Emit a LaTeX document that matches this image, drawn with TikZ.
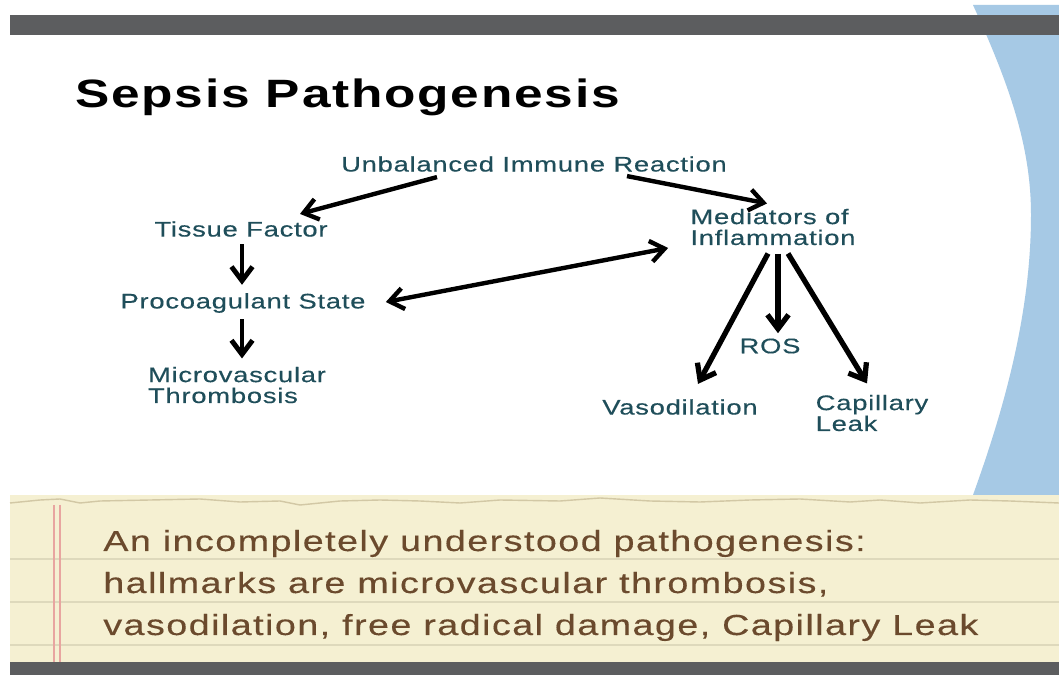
\documentclass[tikz,border=0pt]{standalone}
\usepackage{fontspec}
\usetikzlibrary{arrows.meta}
\newfontfamily\titlefont[FakeStretch=1.3,LetterSpace=4.5]{Liberation Sans}
\newfontfamily\diagfont[FakeStretch=1.3,LetterSpace=3.5,FakeBold=0.3]{Liberation Sans}
\newfontfamily\notefont[FakeStretch=1.3,LetterSpace=5,FakeBold=0.3]{Liberation Sans}
\definecolor{barGrey}{RGB}{92,93,95}
\definecolor{skyBlue}{RGB}{166,201,229}
\definecolor{tealText}{RGB}{31,78,90}
\definecolor{noteBeige}{RGB}{245,240,210}
\definecolor{noteRule}{RGB}{222,217,188}
\definecolor{noteWave}{RGB}{210,200,165}
\definecolor{noteMargin}{RGB}{232,165,160}
\definecolor{noteBrown}{RGB}{107,74,45}
\begin{document}
\begin{tikzpicture}[x=0.02cm,y=-0.02cm,
	>={Straight Barb[length=8pt,width=12pt]},
	lbl/.style={text=tealText, font=\diagfont\fontsize{12pt}{11.9pt}\selectfont, inner sep=0pt},
	note/.style={text=noteBrown, font=\notefont\fontsize{16.5pt}{18pt}\selectfont, anchor=base west, inner sep=0pt},
	arr/.style={->, line width=2.5pt}]
	\useasboundingbox (0,0) rectangle (1059,675);
	\fill[white] (0,0) rectangle (1059,675);
	% blue bow on the right
	\fill[skyBlue] (973,5) .. controls (1012,90) and (1031,150) .. (1031,215)
		.. controls (1031,320) and (1000,420) .. (973,495) -- (1059,495) -- (1059,5) -- cycle;
	% top and bottom bars, note paper
	\fill[barGrey] (10,15) rectangle (1059,35);
	\fill[noteBeige] (10,495) rectangle (1059,662);
	\foreach \y in {559,602,645} {
		\draw[noteRule, line width=0.6pt] (10,\y) -- (1059,\y);
	}
	\draw[noteWave, line width=0.8pt] plot coordinates {(10,503) (40,500) (60,499) (80,503) (100,501)
		(150,500) (200,499) (240,502) (280,501) (300,505) (340,501) (380,500) (420,501) (460,503)
		(500,500) (560,501) (600,498) (650,501) (700,502) (750,500) (800,499) (850,502) (880,500)
		(920,503) (970,500) (1010,501) (1059,503)};
	\foreach \x in {54,60} {
		\draw[noteMargin, line width=0.6pt] (\x,505) -- (\x,662);
	}
	\fill[barGrey] (10,662) rectangle (1059,675);

	% title
	\node[font=\titlefont\bfseries\fontsize{22.5pt}{26pt}\selectfont, anchor=base west, inner sep=0pt] (title) at (75,108) {Sepsis Pathogenesis};

	% diagram labels
	\node[lbl] (ubr) at (534,164) {Unbalanced Immune Reaction};
	\node[lbl] (tf) at (241,229) {Tissue Factor};
	\node[lbl, align=left] (med) at (773,227) {Mediators of\\Inflammation};
	\node[lbl] (proc) at (243,303) {Procoagulant State};
	\node[lbl, align=left] (mt) at (237,385) {Microvascular\\Thrombosis};
	\node[lbl] (ros) at (770,346) {ROS};
	\node[lbl] (vaso) at (680,407) {Vasodilation};
	\node[lbl, align=left] (cap) at (872,413) {Capillary\\Leak};

	% arrows
	\draw[arr] ([shift={(-97,5)}]ubr.south) -- ([shift={(59,-7)}]tf.north);
	\draw[arr] ([shift={(93,4)}]ubr.south) -- ([shift={(-6,-5)}]med.north);
	\draw[arr, <->] ([shift={(20,-1)}]proc.east) -- ([shift={(-22,21)}]med.west);
	\draw[arr, line width=2.8pt] ([shift={(1,7)}]tf.south) -- ([shift={(-1,-8)}]proc.north);
	\draw[arr, line width=2.8pt] ([shift={(-1,6)}]proc.south) -- ([shift={(5,-8)}]mt.north);
	\draw[arr, line width=3pt] ([shift={(5,8)}]med.south) -- ([shift={(8,-5)}]ros.north);
	\draw[arr, line width=3pt] ([shift={(-5,8)}]med.south) -- ([shift={(18,-15)}]vaso.north);
	\draw[arr, line width=3pt] ([shift={(15,8)}]med.south) -- ([shift={(-5,-11)}]cap.north);

	% note text
	\node[note] (n1) at (103,551) {An incompletely understood pathogenesis:};
	\node[note] (n2) at (103,593) {hallmarks are microvascular thrombosis,};
	\node[note] (n3) at (103,635) {vasodilation, free radical damage, Capillary Leak};
\end{tikzpicture}
\end{document}
